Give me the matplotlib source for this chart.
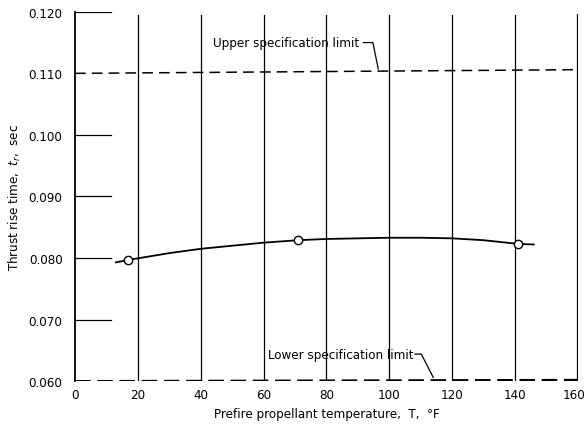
import numpy as np
import matplotlib.pyplot as plt
import matplotlib.transforms as mtransforms

# measured points
temp = [17, 71, 141]
rise = [0.0797, 0.0829, 0.0823]

# faired curve through the data
curve_t = [13, 17, 30, 40, 50, 60, 71, 80, 90, 100, 110, 120, 130, 141, 146]
curve_r = [0.0793, 0.0797, 0.0808, 0.0815, 0.0820, 0.0825, 0.0829, 0.0831, 0.0832,
           0.0833, 0.0833, 0.0832, 0.0829, 0.0823, 0.0822]

# specification limits (left end, right end)
upper_x = [0, 160]
upper_y = [0.1100, 0.1106]
lower_x = [0, 160]
lower_y = [0.0600, 0.0602]

xticks = [0, 20, 40, 60, 80, 100, 120, 140, 160]
yticks = [0.060, 0.070, 0.080, 0.090, 0.100, 0.110, 0.120]
stub_ticks = [0.070, 0.080, 0.090, 0.100, 0.120]

plt.rcParams['font.family'] = ['DejaVu Sans']
plt.rcParams['font.stretch'] = 'condensed'
plt.rcParams['font.size'] = 9.5

fig = plt.figure(figsize=(5.86, 4.27), dpi=100)
ax = fig.add_axes([0.128, 0.105, 0.858, 0.865])

# vertical grid lines
for x in xticks[1:]:
    lw = 1.6 if x == 160 else 0.9
    ax.plot([x, x], [0.060, 0.1195], color='black', lw=lw)

# short horizontal stubs at left
for y in stub_ticks:
    ax.plot([0, 11.5], [y, y], color='black', lw=0.9)

ax.plot(upper_x, upper_y, color='black', lw=1.1, dashes=(7, 4))
ax.plot(lower_x, lower_y, color='black', lw=1.6, dashes=(7, 3))

ax.plot(curve_t, curve_r, color='black', lw=1.3)
ax.plot(temp, rise, 'o', mfc='white', mec='black', ms=6, mew=1.0)

# labels with leaders
ax.text(44, 0.1150, 'Upper specification limit', va='center')
ax.plot([91.8, 94.8, 96.5], [0.1150, 0.1150, 0.1107], color='black', lw=0.9)
ax.text(61.5, 0.0644, 'Lower specification limit', va='center')
ax.plot([108.2, 110.2, 114], [0.0644, 0.0644, 0.0606], color='black', lw=0.9)

ax.set_xlim(0, 160)
ax.set_ylim(0.060, 0.120)
ax.set_xticks(xticks)
ax.set_yticks(yticks)
ax.set_yticklabels(['%.3f' % y for y in yticks])
ax.tick_params(length=0, labelsize=9.5)
ax.tick_params(axis='x', pad=5)
ax.tick_params(axis='y', pad=9)

# nudge the last x label so it stays on the canvas
last = ax.get_xticklabels()[-1]
last.set_transform(last.get_transform() +
                   mtransforms.ScaledTranslation(-3 / 72, 0, fig.dpi_scale_trans))

for s in ['top', 'right', 'bottom']:
    ax.spines[s].set_visible(False)
ax.spines['left'].set_linewidth(1.3)

ax.set_xlabel('Prefire propellant temperature,  T,  °F')
ax.set_ylabel('Thrust rise time,  $t_r$,  sec')

fig.savefig('out.png', dpi=100)
